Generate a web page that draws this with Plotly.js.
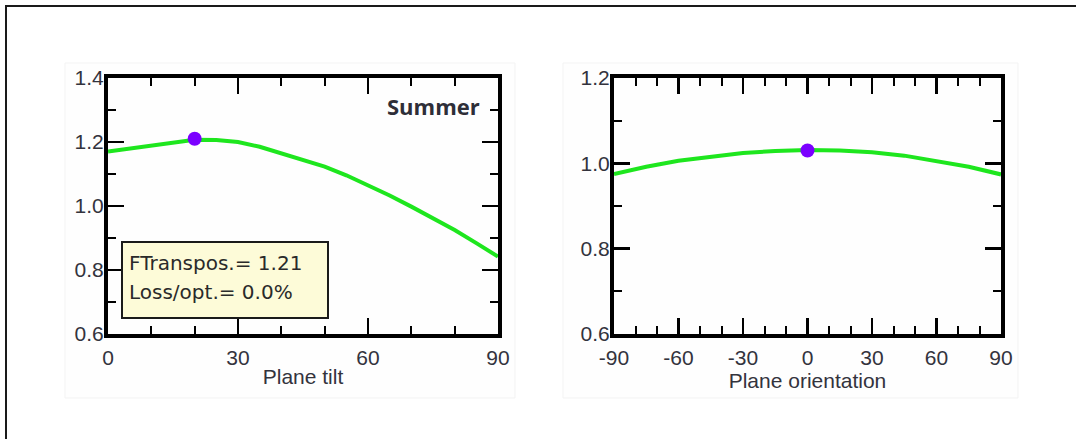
<!DOCTYPE html>
<html>
<head>
<meta charset="utf-8">
<script src="https://cdn.plot.ly/plotly-3.0.1.min.js"></script>
<style>
  html, body { margin: 0; padding: 0; background: #ffffff; }
  #chart { width: 1076px; height: 439px; }
</style>
</head>
<body>
<div id="chart"></div>
<script>
// ---- Data ----
const tiltAngles = [0, 5, 10, 15, 20, 25, 30, 35, 40, 45, 50, 55, 60, 65, 70, 75, 80, 85, 90];
const tiltFactor = [1.170, 1.180, 1.190, 1.200, 1.207, 1.206, 1.200, 1.185, 1.165, 1.145, 1.123, 1.096, 1.066, 1.033, 0.998, 0.962, 0.925, 0.884, 0.842];
const tiltOptimum = { x: [20], y: [1.21] };

const orientAngles = [-90, -75, -60, -45, -30, -15, 0, 15, 30, 45, 60, 75, 90];
const orientFactor = [0.975, 0.992, 1.006, 1.016, 1.024, 1.029, 1.031, 1.030, 1.026, 1.018, 1.006, 0.992, 0.974];
const orientOptimum = { x: [0], y: [1.03] };

const tiltTicks = [0, 30, 60, 90];
const orientTicks = [-90, -60, -30, 0, 30, 60, 90];
const leftYTicks = [0.6, 0.8, 1.0, 1.2, 1.4];
const rightYTicks = [0.6, 0.8, 1.0, 1.2];

const seasonLabel = "Summer";
const infoLines = ["FTranspos.= 1.21", "Loss/opt.= 0.0%"];
const xTitleLeft = "Plane tilt";
const xTitleRight = "Plane orientation";

// ---- Styles ----
const W = 1076, H = 439;
const px = v => v / W;
const py = v => 1 - v / H;
const lineColor = "#1ee61e";
const dotColor = "#7b00ff";
const tickFont = { family: "Liberation Sans, Arial, sans-serif", size: 21, color: "#33333d" };
const titleFont = { family: "Liberation Sans, Arial, sans-serif", size: 21, color: "#33333d" };

function xAxis(domain, range, ticks, title) {
  return {
    domain: domain, range: range, tickvals: ticks, ticktext: ticks.map(String),
    showgrid: false, zeroline: false, showline: true, linecolor: "#000", linewidth: 4,
    mirror: "ticks", ticks: "inside", ticklen: 16, tickwidth: 2.5, tickcolor: "#000",
    minor: { ticks: "inside", dtick: 10, tick0: 0, ticklen: 8, tickwidth: 2, tickcolor: "#000", showgrid: false },
    tickfont: tickFont, ticklabelstandoff: 2,
    title: { text: title, font: titleFont, standoff: 2 },
    fixedrange: true, automargin: false
  };
}
function yAxis(domain, range, ticks) {
  return {
    domain: domain, range: range, tickvals: ticks, ticktext: ticks.map(v => v.toFixed(1)),
    showgrid: false, zeroline: false, showline: true, linecolor: "#000", linewidth: 4,
    mirror: "ticks", ticks: "inside", ticklen: 16, tickwidth: 2.5, tickcolor: "#000",
    minor: { ticks: "inside", dtick: 0.1, tick0: 0.6, ticklen: 8, tickwidth: 2, tickcolor: "#000", showgrid: false },
    tickfont: tickFont, ticklabelstandoff: -4,
    fixedrange: true, automargin: false
  };
}

const yDom = [py(334), py(78)];

const data = [
  { x: tiltAngles, y: tiltFactor, xaxis: "x", yaxis: "y", mode: "lines",
    line: { color: lineColor, width: 4 }, hoverinfo: "skip", showlegend: false },
  { x: tiltOptimum.x, y: tiltOptimum.y, xaxis: "x", yaxis: "y", mode: "markers",
    marker: { color: dotColor, size: 14 }, hoverinfo: "skip", showlegend: false },
  { x: orientAngles, y: orientFactor, xaxis: "x2", yaxis: "y2", mode: "lines",
    line: { color: lineColor, width: 4 }, hoverinfo: "skip", showlegend: false },
  { x: orientOptimum.x, y: orientOptimum.y, xaxis: "x2", yaxis: "y2", mode: "markers",
    marker: { color: dotColor, size: 14 }, hoverinfo: "skip", showlegend: false }
];

const layout = {
  width: W, height: H,
  margin: { l: 0, r: 0, t: 0, b: 0, pad: 0 },
  paper_bgcolor: "#ffffff", plot_bgcolor: "rgba(0,0,0,0)",
  showlegend: false,
  xaxis: xAxis([px(108), px(498)], [0, 90], tiltTicks, xTitleLeft),
  yaxis: Object.assign(yAxis(yDom, [0.6, 1.4], leftYTicks), { anchor: "x" }),
  xaxis2: Object.assign(xAxis([px(614), px(1001)], [-90, 90], orientTicks, xTitleRight), { anchor: "y2" }),
  yaxis2: Object.assign(yAxis(yDom, [0.6, 1.2], rightYTicks), { anchor: "x2" }),
  shapes: [
    // faint panel backgrounds
    { type: "rect", xref: "paper", yref: "paper", x0: px(65), x1: px(515), y0: py(398), y1: py(63),
      fillcolor: "#fefefe", line: { color: "#f3f3f3", width: 1 }, layer: "below" },
    { type: "rect", xref: "paper", yref: "paper", x0: px(563), x1: px(1018), y0: py(398), y1: py(63),
      fillcolor: "#fefefe", line: { color: "#f3f3f3", width: 1 }, layer: "below" },
    // outer frame: left and top edges
    { type: "line", xref: "paper", yref: "paper", x0: px(6), x1: px(6), y0: 0, y1: py(5),
      line: { color: "#1a1a1a", width: 2 }, layer: "above" },
    { type: "line", xref: "paper", yref: "paper", x0: px(5), x1: 1, y0: py(6), y1: py(6),
      line: { color: "#1a1a1a", width: 2 }, layer: "above" },
    // info box
    { type: "rect", xref: "paper", yref: "paper", x0: px(122), x1: px(328), y0: py(318), y1: py(242),
      fillcolor: "#fdfbd8", line: { color: "#1a1a1a", width: 2 }, layer: "above" }
  ],
  annotations: [
    { xref: "paper", yref: "paper", x: px(482), y: py(106), xanchor: "right", yanchor: "middle",
      text: "<b>" + seasonLabel + "</b>", showarrow: false,
      font: { family: "Open Sans, sans-serif", size: 22, color: "#2e2e38" } },
    { xref: "paper", yref: "paper", x: px(127), y: py(263), xanchor: "left", yanchor: "middle",
      text: infoLines[0], showarrow: false,
      font: { family: "DejaVu Sans, sans-serif", size: 20, color: "#2a2a2a" } },
    { xref: "paper", yref: "paper", x: px(127), y: py(292), xanchor: "left", yanchor: "middle",
      text: infoLines[1], showarrow: false,
      font: { family: "DejaVu Sans, sans-serif", size: 20, color: "#2a2a2a" } }
  ]
};

Plotly.newPlot("chart", data, layout, { staticPlot: true, displayModeBar: false });
</script>
</body>
</html>
